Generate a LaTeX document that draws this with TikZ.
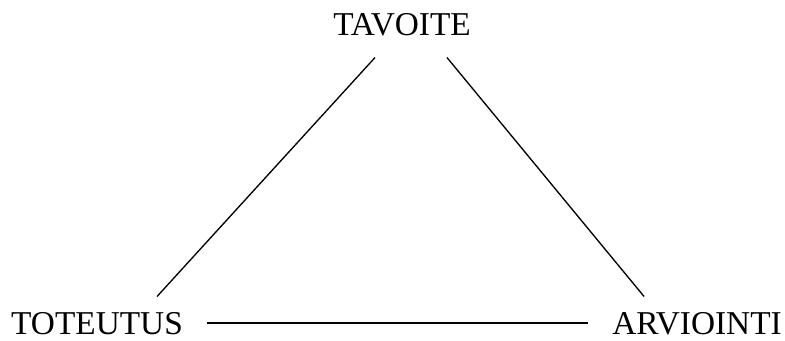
\documentclass[tikz,border=0pt]{standalone}
\usepackage{fontspec}
\setmainfont{Liberation Serif}
\usetikzlibrary{calc}

\begin{document}
\begin{tikzpicture}[
  x=0.75pt, y=0.75pt,
  stage/.style={inner sep=0pt, font=\fontsize{25}{30}\selectfont},
  link/.style={line width=1pt}
]
  \useasboundingbox (0,0) rectangle (785,340);

  % Corners of the triangle
  \node[stage] (goal) at (402,315) {TAVOITE};
  \node[stage] (impl) at (97,16) {TOTEUTUS};
  \node[stage] (eval) at (697,16) {ARVIOINTI};

  % Sides
  \draw[link] ($(goal.south)+(-27,-21)$) -- ($(impl.north)+(60,16)$);
  \draw[link] ($(goal.south)+(45,-21)$) -- ($(eval.north)+(-53,16)$);
  \draw[link] ($(impl.east)+(24,1)$) -- ($(eval.west)+(-24,1)$);
\end{tikzpicture}
\end{document}
